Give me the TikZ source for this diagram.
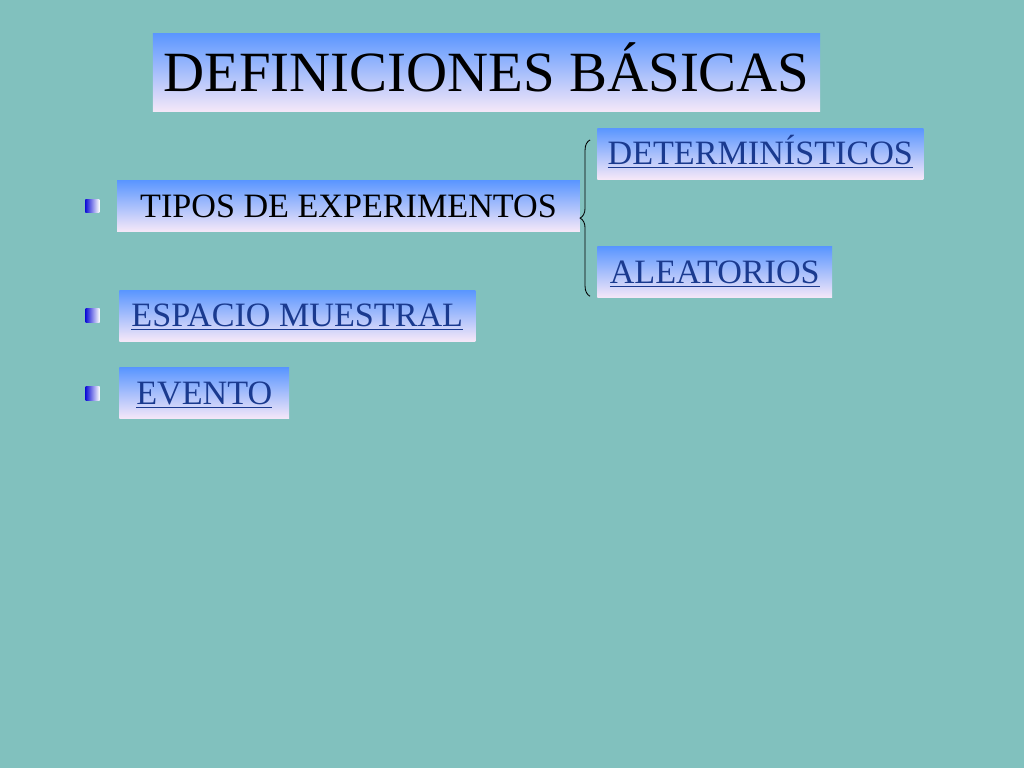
\documentclass[tikz,border=0pt]{standalone}
\usepackage{fontspec}
\setmainfont{Liberation Serif}
\usetikzlibrary{positioning,decorations.pathreplacing}
\definecolor{fondo}{RGB}{129,193,190}
\definecolor{azulsup}{RGB}{90,150,255}
\definecolor{azulinf}{RGB}{246,232,248}
\definecolor{enlace}{RGB}{26,58,143}
\definecolor{vinazul}{RGB}{20,20,215}

\begin{document}
\begin{tikzpicture}[x=0.703125pt,y=-0.703125pt,
	caja/.style={top color=azulsup,bottom color=azulinf,inner sep=0pt,minimum height=35.9pt,text height=15.7pt,text depth=0pt,font=\fontsize{24}{28}\selectfont},
	liga/.style={caja,text=enlace},
	vineta/.style={left color=vinazul,right color=white,minimum size=9.8pt,inner sep=0pt}]
	\fill[fondo] (0,0) rectangle (1024,768);
	\node[caja,minimum width=469pt,minimum height=55.5pt,text height=26.2pt,font=\fontsize{40}{46}\selectfont] (tit) at (486.5,72.5) {DEFINICIONES BÁSICAS};
	\node[caja,minimum width=325.5pt] (tipos) at (348.5,206) {TIPOS DE EXPERIMENTOS};
	\node[liga,minimum width=229.2pt,anchor=north west] (det) at (597,128) {\underline{DETERMINÍSTICOS}};
	\node[liga,minimum width=165.2pt,below right=47.1pt and 0pt of det.south west] (ale) {\underline{ALEATORIOS}};
	\node[liga,minimum width=250.3pt,anchor=north west] (esp) at (119,290) {\underline{ESPACIO MUESTRAL}};
	\node[liga,minimum width=119.5pt,below right=18.3pt and 0pt of esp.south west] (evt) {\underline{EVENTO}};
	\node[vineta,left=12pt of tipos] (v1) {};
	\node[vineta,left=13.4pt of esp] (v2) {};
	\node[vineta,left=13.4pt of evt] (v3) {};
	\coordinate (l0) at ([xshift=-4.9pt,yshift=1.4pt]ale.south west);
	\coordinate (l1) at ([xshift=-4.9pt,yshift=-8.4pt]det.north west);
	\draw[line width=0.6pt,decorate,decoration={brace,amplitude=7pt}] (l0) -- (l1);
\end{tikzpicture}
\end{document}
